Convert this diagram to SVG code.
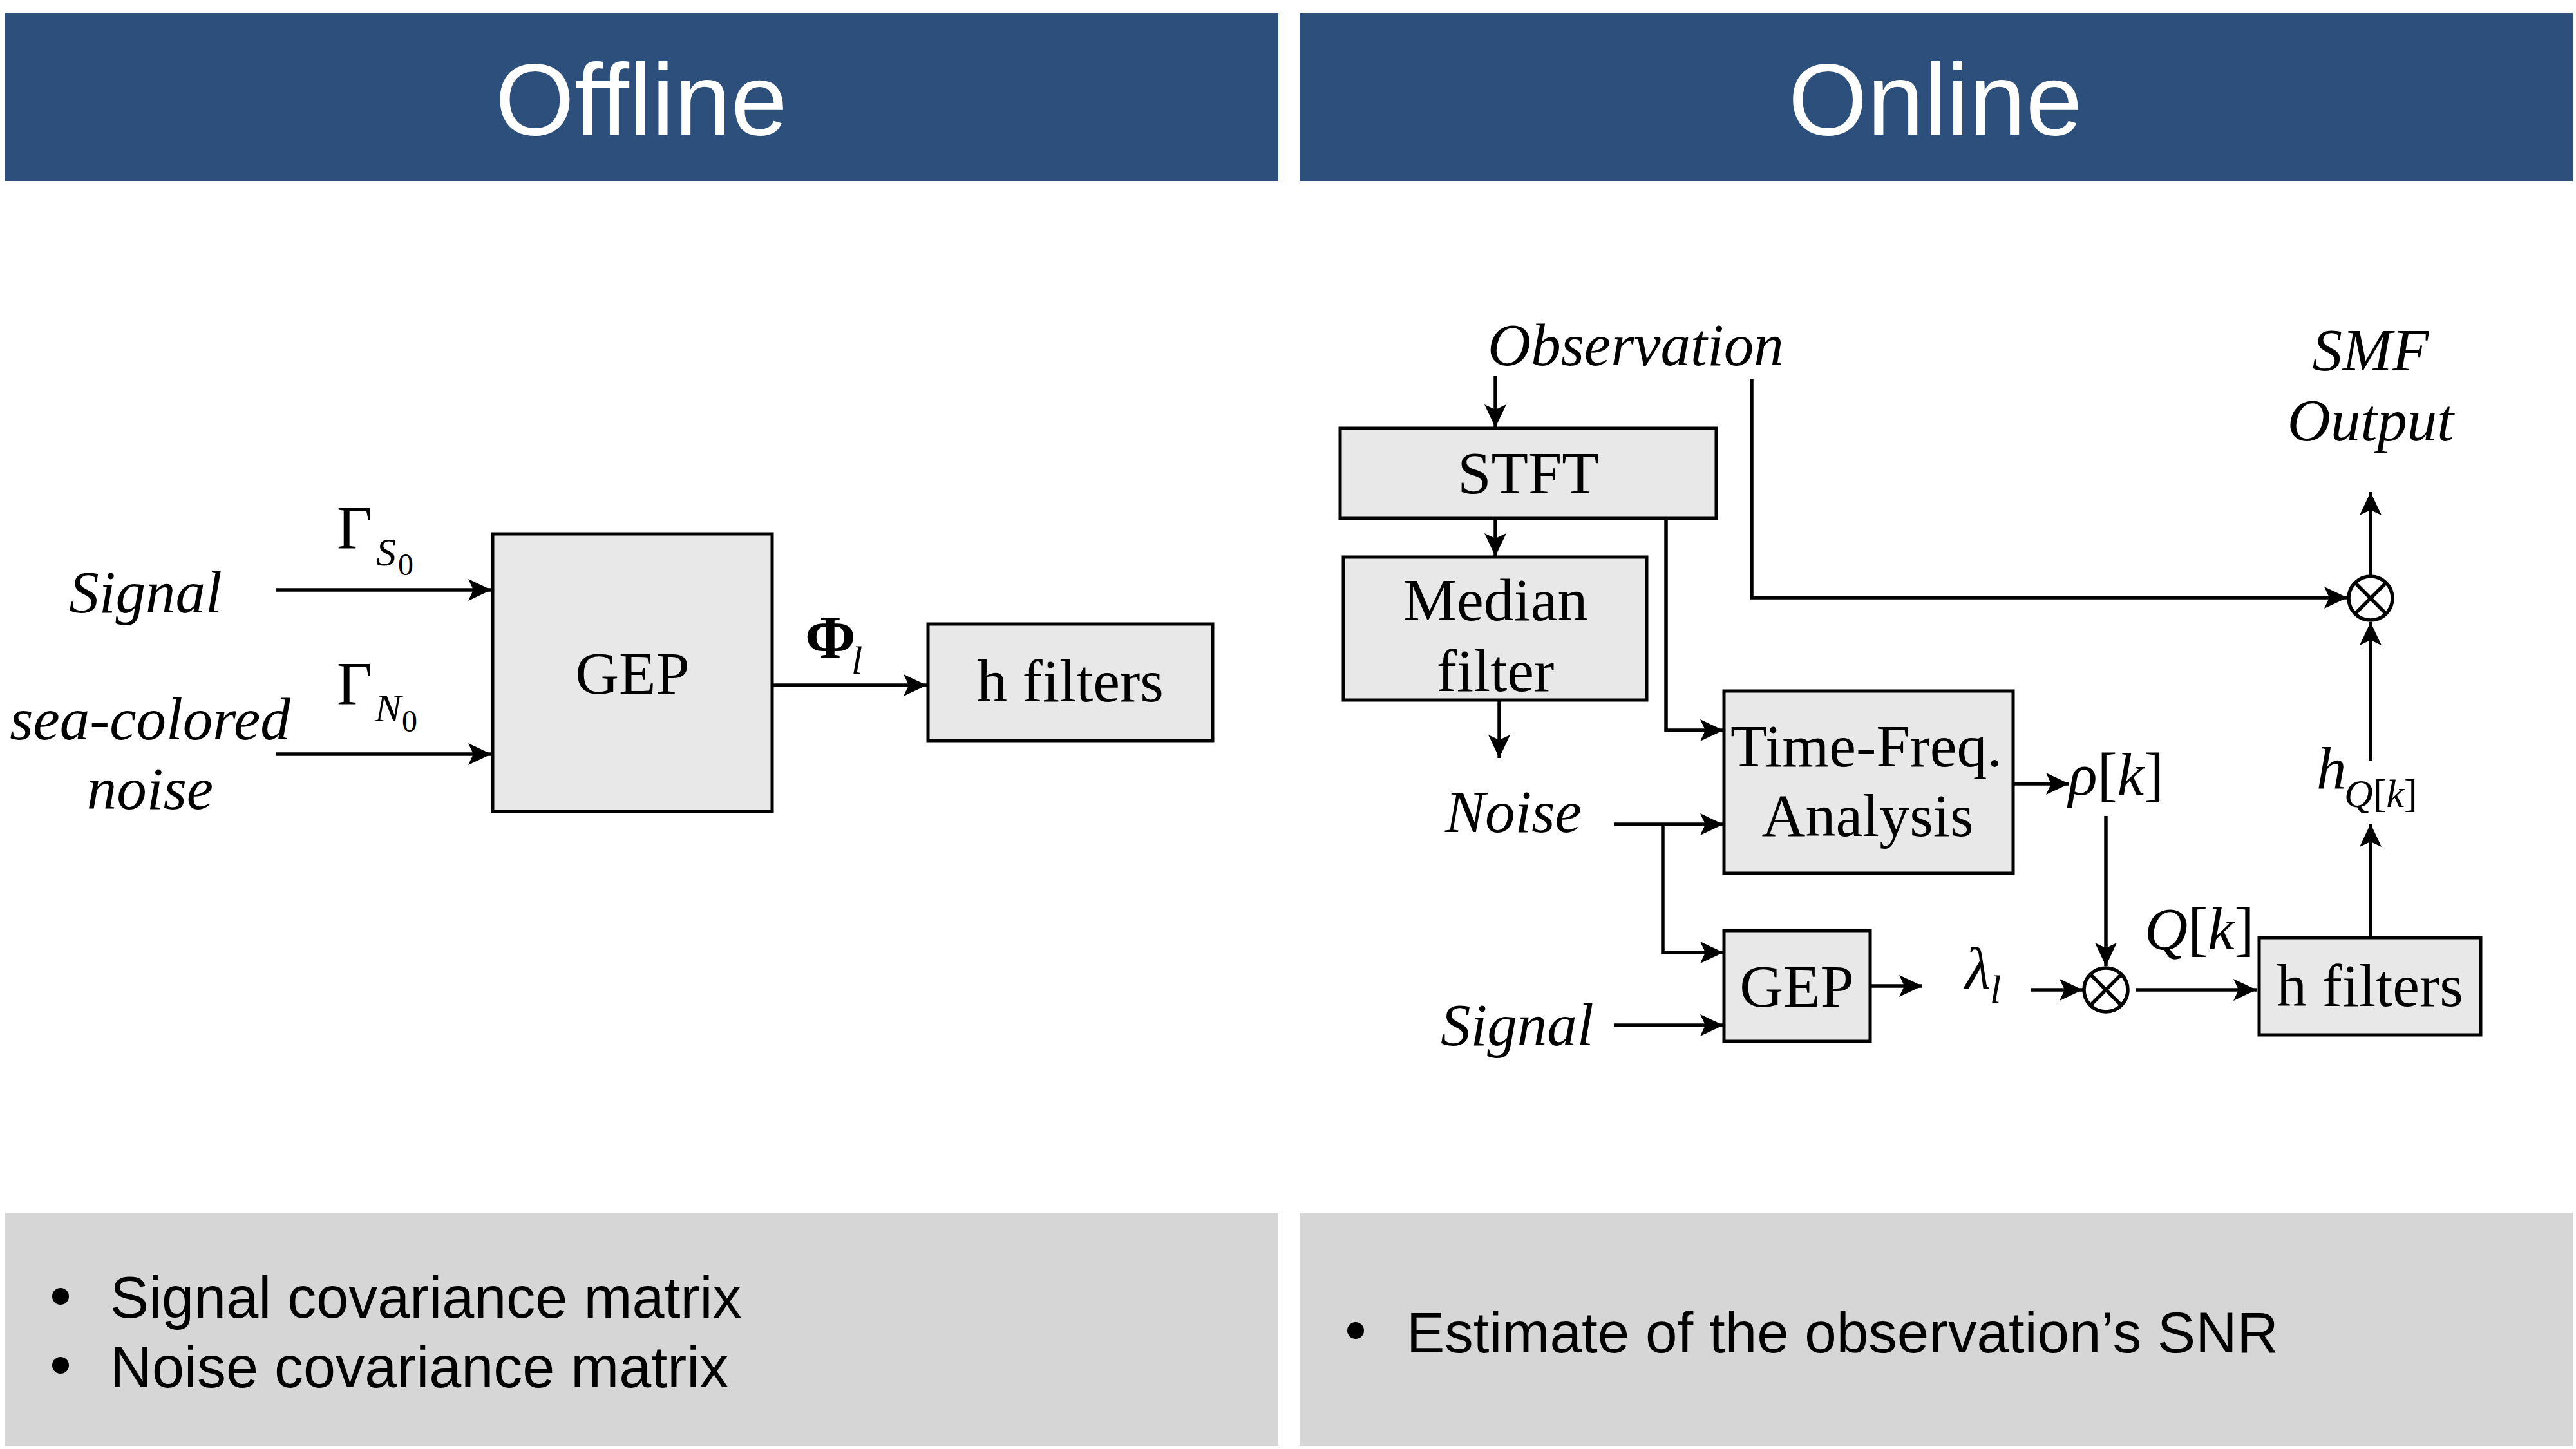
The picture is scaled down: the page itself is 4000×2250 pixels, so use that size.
<svg xmlns="http://www.w3.org/2000/svg" width="4000" height="2250" viewBox="0 0 4000 2250">
<defs>
<marker id="ah" markerUnits="userSpaceOnUse" markerWidth="40" markerHeight="36" refX="36" refY="17" orient="auto" viewBox="0 0 40 36">
<path d="M0,0 L36,17 L0,34 L8,17 z" fill="#000"/>
</marker>
</defs>
<style>
.hdr{fill:#2d4f7c}
.ftr{fill:#d6d6d6}
.ttl{font-family:"Liberation Sans",Arial,sans-serif;font-size:158px;fill:#fff;text-anchor:middle}
.bul{font-family:"Liberation Sans",Arial,sans-serif;fill:#000}
.box{fill:#e8e8e8;stroke:#000;stroke-width:5}
.bt{font-family:"Liberation Serif","Times New Roman",serif;font-size:94px;fill:#000;text-anchor:middle}
.it{font-family:"Liberation Serif","Times New Roman",serif;font-size:93px;font-style:italic;fill:#000}
.rm{font-family:"Liberation Serif","Times New Roman",serif;font-size:95px;fill:#000}
.sub{font-size:62px}
.ssub{font-size:48px}
.c{text-anchor:middle}
.ln{fill:none;stroke:#000;stroke-width:5.5}
.arr{marker-end:url(#ah)}
</style>
<rect width="4000" height="2250" fill="#fff"/>
<g id="offline-header">
<rect class="hdr" x="8" y="20" width="1977" height="261"/>
<text class="ttl" x="996" y="209">Offline</text>
</g>
<g id="online-header">
<rect class="hdr" x="2018" y="20" width="1977" height="261"/>
<text class="ttl" x="3005" y="209">Online</text>
</g>
<g id="offline-footer">
<rect class="ftr" x="8" y="1883" width="1977" height="362"/>
<circle cx="94" cy="2013" r="13"/>
<circle cx="94" cy="2120" r="13"/>
<text class="bul" x="171" y="2046" font-size="90">Signal covariance matrix</text>
<text class="bul" x="171" y="2154" font-size="90">Noise covariance matrix</text>
</g>
<g id="online-footer">
<rect class="ftr" x="2018" y="1883" width="1977" height="362"/>
<circle cx="2105" cy="2066" r="13"/>
<text class="bul" x="2184" y="2100" font-size="89">Estimate of the observation’s SNR</text>
</g>

<g id="connectors">
<path class="ln arr" d="M429,916 H763"/>
<path class="ln arr" d="M429,1171 H763"/>
<path class="ln arr" d="M1199,1064 H1439"/>
<path class="ln arr" d="M2322,584 V664"/>
<path class="ln arr" d="M2322,806 V864"/>
<path class="ln arr" d="M2328,1088 V1177"/>
<path class="ln arr" d="M2587,806 V1134 H2676"/>
<path class="ln arr" d="M2720,588 V928 H3645"/>
<path class="ln arr" d="M3681,893 V764"/>
<path class="ln arr" d="M3681,1181 V966"/>
<path class="ln arr" d="M3681,1456 V1279"/>
<path class="ln arr" d="M2506,1280 H2676"/>
<path class="ln arr" d="M2582,1280 V1479 H2676"/>
<path class="ln arr" d="M2506,1592 H2676"/>
<path class="ln arr" d="M2904,1531 H2985"/>
<path class="ln arr" d="M3126,1217 H3213"/>
<path class="ln arr" d="M3270,1267 V1500"/>
<path class="ln arr" d="M3154,1537 H3234"/>
<path class="ln arr" d="M3317,1537 H3504"/>
</g>

<g id="off-signal-label">
<text class="it c" x="226" y="951">Signal</text>
</g>
<g id="off-noise-label">
<text class="it c" x="233" y="1148">sea-colored</text>
<text class="it c" x="233" y="1256">noise</text>
</g>
<g id="gamma-s0">
<text class="rm" x="523" y="852">Γ</text>
<text class="it sub" x="584" y="878">S</text>
<text class="rm ssub" x="618" y="893">0</text>
</g>
<g id="gamma-n0">
<text class="rm" x="523" y="1094">Γ</text>
<text class="it sub" x="582" y="1120">N</text>
<text class="rm ssub" x="624" y="1136">0</text>
</g>
<g id="off-gep">
<rect class="box" x="765" y="829" width="434" height="431"/>
<text class="bt" x="982" y="1077">GEP</text>
</g>
<g id="phi-l">
<text class="rm" x="1250" y="1022" font-weight="bold">Φ</text>
<text class="it sub" x="1322" y="1046">l</text>
</g>
<g id="off-hfilters">
<rect class="box" x="1441" y="969" width="442" height="181"/>
<text class="bt" x="1662" y="1089">h filters</text>
</g>

<g id="observation">
<text class="it" x="2310" y="567">Observation</text>
</g>
<g id="smf-output">
<text class="it c" x="3681" y="575">SMF</text>
<text class="it c" x="3681" y="684">Output</text>
</g>
<g id="stft">
<rect class="box" x="2081" y="665" width="584" height="140"/>
<text class="bt" x="2373" y="766">STFT</text>
</g>
<g id="median">
<rect class="box" x="2086" y="865" width="471" height="222"/>
<text class="bt" x="2322" y="963">Median</text>
<text class="bt" x="2322" y="1073">filter</text>
</g>
<g id="tfa">
<rect class="box" x="2677" y="1073" width="449" height="283"/>
<text class="bt" x="2898" y="1190">Time-Freq.</text>
<text class="bt" x="2900" y="1298">Analysis</text>
</g>
<g id="on-noise-label">
<text class="it" x="2244" y="1292">Noise</text>
</g>
<g id="on-signal-label">
<text class="it" x="2237" y="1623">Signal</text>
</g>
<g id="on-gep">
<rect class="box" x="2677" y="1445" width="227" height="172"/>
<text class="bt" x="2790" y="1563">GEP</text>
</g>
<g id="lambda-l">
<text class="it" x="3051" y="1535">λ</text>
<text class="it sub" x="3090" y="1557">l</text>
</g>
<g id="rho-k">
<text class="it" x="3212" y="1234">ρ<tspan font-style="normal">[</tspan>k<tspan font-style="normal">]</tspan></text>
</g>
<g id="q-k">
<text class="it" x="3330" y="1474">Q<tspan font-style="normal">[</tspan>k<tspan font-style="normal">]</tspan></text>
</g>
<g id="h-qk">
<text class="it" x="3597" y="1225">h</text>
<text class="it sub" x="3640" y="1253">Q<tspan font-style="normal">[</tspan>k<tspan font-style="normal">]</tspan></text>
</g>
<g id="on-hfilters">
<rect class="box" x="3508" y="1456" width="344" height="151"/>
<text class="bt" x="3680" y="1562">h filters</text>
</g>
<g id="mult-top">
<circle cx="3681" cy="929" r="34" fill="#fff" stroke="#000" stroke-width="5.5"/>
<path class="ln" d="M3657,905 L3705,953 M3705,905 L3657,953"/>
</g>
<g id="mult-bottom">
<circle cx="3270" cy="1537" r="34" fill="#fff" stroke="#000" stroke-width="5.5"/>
<path class="ln" d="M3246,1513 L3294,1561 M3294,1513 L3246,1561"/>
</g>
</svg>
